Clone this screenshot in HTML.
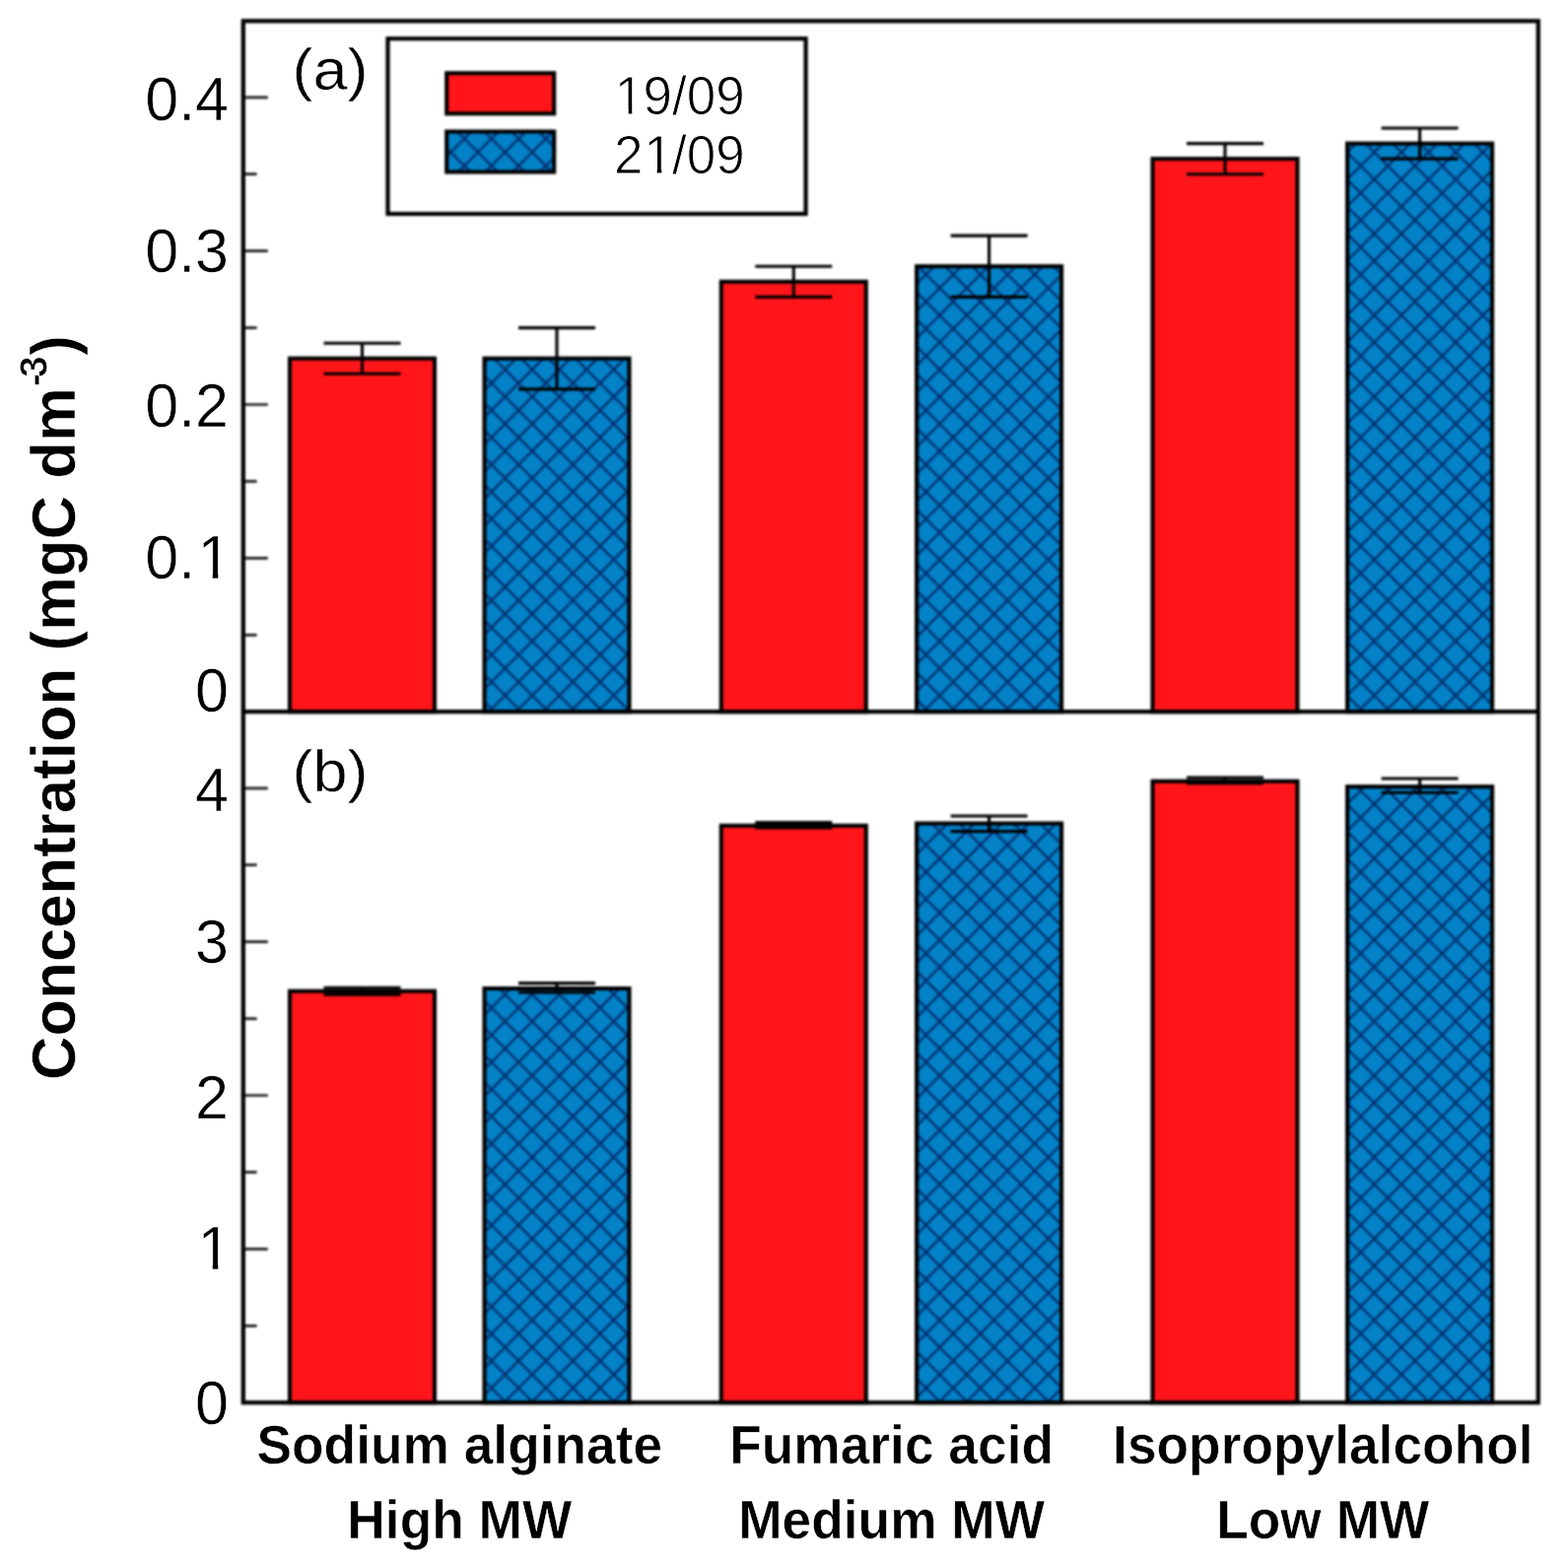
<!DOCTYPE html>
<html lang="en"><head><meta charset="utf-8"><title>Concentration bar chart</title>
<style>
html,body{margin:0;padding:0;background:#fff;}
body{width:1591px;height:1588px;overflow:hidden;}
svg{display:block;}
text{font-family:"Liberation Sans",Arial,Helvetica,sans-serif;fill:#000;stroke:#fff;stroke-width:0.5px;paint-order:fill stroke;stroke-linejoin:round;}
.tk{font-size:61px;text-anchor:end;}
.lg{font-size:53px;text-anchor:start;stroke-width:0.9px;}
.pl{font-size:63px;text-anchor:start;}
.xl{font-size:53.3px;font-weight:bold;text-anchor:middle;stroke-width:0.5px;}
.yl{font-size:61.7px;font-weight:bold;text-anchor:start;stroke-width:0.5px;}
.sup{font-size:39px;letter-spacing:-4.0px;stroke-width:0.8px;}
</style></head><body>
<svg width="1591" height="1588" viewBox="0 0 1591 1588" role="img" aria-label="Bar chart of concentration (mgC dm-3) for Sodium alginate, Fumaric acid and Isopropylalcohol on 19/09 and 21/09">
<defs>
<pattern id="hatch" patternUnits="userSpaceOnUse" x="498.7" y="416.3" width="27.56" height="27.56">
<rect x="0" y="0" width="27.56" height="27.56" fill="#0482c8"/>
<path d="M0 0L27.56 27.56M27.56 0L0 27.56" stroke="#04306f" stroke-width="2.4" fill="none" stroke-linecap="square"/>
</pattern>
<filter id="soft" x="-2%" y="-2%" width="104%" height="104%" color-interpolation-filters="sRGB"><feGaussianBlur stdDeviation="0.9"/></filter>
<filter id="softt" x="-2%" y="-2%" width="104%" height="104%" color-interpolation-filters="sRGB"><feGaussianBlur stdDeviation="0.6"/></filter>
</defs>
<rect x="0" y="0" width="1591" height="1588" fill="#fff"/>
<g id="shapes" filter="url(#soft)">
<g id="panel-a-bars">
<rect x="294.0" y="363.7" width="147.0" height="358.5" fill="#ff151a" stroke="#000" stroke-width="4.1"/>
<rect x="491.5" y="363.7" width="147.0" height="358.5" fill="url(#hatch)" stroke="#000" stroke-width="4.1"/>
<rect x="731.8" y="285.8" width="147.0" height="436.4" fill="#ff151a" stroke="#000" stroke-width="4.1"/>
<rect x="930.1" y="270.2" width="147.0" height="452.0" fill="url(#hatch)" stroke="#000" stroke-width="4.1"/>
<rect x="1169.5" y="161.1" width="147.0" height="561.1" fill="#ff151a" stroke="#000" stroke-width="4.1"/>
<rect x="1367.1" y="145.6" width="147.0" height="576.6" fill="url(#hatch)" stroke="#000" stroke-width="4.1"/>
<path d="M328.5 348.2H406.5M328.5 379.3H406.5M367.5 348.2V379.3" stroke="#000" stroke-width="3.1" fill="none"/>
<path d="M526.0 332.6H604.0M526.0 394.9H604.0M565.0 332.6V394.9" stroke="#000" stroke-width="3.1" fill="none"/>
<path d="M766.3 270.2H844.3M766.3 301.4H844.3M805.3 270.2V301.4" stroke="#000" stroke-width="3.1" fill="none"/>
<path d="M964.6 239.1H1042.6M964.6 301.4H1042.6M1003.6 239.1V301.4" stroke="#000" stroke-width="3.1" fill="none"/>
<path d="M1204.0 145.6H1282.0M1204.0 176.7H1282.0M1243.0 145.6V176.7" stroke="#000" stroke-width="3.1" fill="none"/>
<path d="M1401.6 130.0H1479.6M1401.6 161.1H1479.6M1440.6 130.0V161.1" stroke="#000" stroke-width="3.1" fill="none"/>
</g>
<g id="panel-b-bars">
<rect x="294.0" y="1005.7" width="147.0" height="417.5" fill="#ff151a" stroke="#000" stroke-width="4.1"/>
<rect x="491.5" y="1003.0" width="147.0" height="420.2" fill="url(#hatch)" stroke="#000" stroke-width="4.1"/>
<rect x="731.8" y="837.8" width="147.0" height="585.4" fill="#ff151a" stroke="#000" stroke-width="4.1"/>
<rect x="930.1" y="835.5" width="147.0" height="587.7" fill="url(#hatch)" stroke="#000" stroke-width="4.1"/>
<rect x="1169.5" y="792.7" width="147.0" height="630.5" fill="#ff151a" stroke="#000" stroke-width="4.1"/>
<rect x="1367.1" y="798.2" width="147.0" height="625.0" fill="url(#hatch)" stroke="#000" stroke-width="4.1"/>
<path d="M328.5 1002.3H406.5M328.5 1009.1H406.5M367.5 1002.3V1009.1" stroke="#000" stroke-width="3.1" fill="none"/>
<path d="M526.0 997.6H604.0M526.0 1007.0H604.0M565.0 997.6V1007.0" stroke="#000" stroke-width="3.1" fill="none"/>
<path d="M766.3 834.6H844.3M766.3 840.0H844.3M805.3 834.6V840.0" stroke="#000" stroke-width="3.1" fill="none"/>
<path d="M964.6 828.0H1042.6M964.6 843.6H1042.6M1003.6 828.0V843.6" stroke="#000" stroke-width="3.1" fill="none"/>
<path d="M1204.0 789.0H1282.0M1204.0 794.8H1282.0M1243.0 789.0V794.8" stroke="#000" stroke-width="3.1" fill="none"/>
<path d="M1401.6 790.0H1479.6M1401.6 804.3H1479.6M1440.6 790.0V804.3" stroke="#000" stroke-width="3.1" fill="none"/>
</g>
<path id="ticks" d="M246.8 566.4h25.0M246.8 1267.4h25.0M246.8 410.5h25.0M246.8 1111.5h25.0M246.8 254.7h25.0M246.8 955.7h25.0M246.8 98.8h25.0M246.8 799.8h25.0M246.8 644.3h13.8M246.8 1345.3h13.8M246.8 488.4h13.8M246.8 1189.4h13.8M246.8 332.6h13.8M246.8 1033.6h13.8M246.8 176.7h13.8M246.8 877.7h13.8" stroke="#1a1a1a" stroke-width="2.7" fill="none"/>
<rect id="frame" x="246.8" y="21.3" width="1314.0" height="1401.9" fill="none" stroke="#000" stroke-width="4.3"/>
<path id="divider" d="M246.8 722.2H1560.8" stroke="#000" stroke-width="4.3" fill="none"/>
<g id="legend">
<rect x="393.5" y="39.2" width="424.1" height="177.8" fill="#fff" stroke="#000" stroke-width="4.2"/>
<rect x="453.2" y="74.2" width="109" height="41.1" fill="#ff151a" stroke="#000" stroke-width="4.1"/>
<rect x="453.2" y="133.5" width="109" height="41" fill="url(#hatch)" stroke="#000" stroke-width="4.1"/>
</g>
</g>
<g id="labels" filter="url(#softt)">
<text id="lg1" class="lg" dx="0.8 -0.8" transform="translate(623.0 116.2) scale(1 1.035)">19/09</text>
<text id="lg2" class="lg" dx="0 0.8 -0.8" transform="translate(623.0 175.6) scale(1 1.035)">21/09</text>
<text id="pa" class="pl" transform="translate(296.4 90.8) scale(1 0.95)">(a)</text>
<text id="pb" class="pl" transform="translate(296.4 802.8) scale(1 0.95)">(b)</text>
<g id="yticks">
<text id="tk0" class="tk" transform="translate(232.0 121.5) scale(1 1.035)">0.4</text>
<text id="tk1" class="tk" transform="translate(232.0 275.5) scale(1 1.035)">0.3</text>
<text id="tk2" class="tk" transform="translate(232.0 433.0) scale(1 1.035)">0.2</text>
<text id="tk3" class="tk" dx="0 0 2.5" transform="translate(234.5 587.0) scale(1 1.035)">0.1</text>
<text id="tk4" class="tk" transform="translate(232.0 721.7) scale(1 1.035)">0</text>
<text id="tk5" class="tk" transform="translate(232.0 822.8) scale(1 1.035)">4</text>
<text id="tk6" class="tk" transform="translate(232.0 976.8) scale(1 1.035)">3</text>
<text id="tk7" class="tk" transform="translate(232.0 1134.8) scale(1 1.035)">2</text>
<text id="tk8" class="tk" transform="translate(234.5 1288.3) scale(1 1.035)">1</text>
<text id="tk9" class="tk" transform="translate(232.0 1444.6) scale(1 1.035)">0</text>
</g>
<g id="xlabels">
<text id="xa0" class="xl" transform="translate(466.3 1485.0) scale(1 1.025)">Sodium alginate</text>
<text id="xb0" class="xl" transform="translate(466.3 1560.6) scale(1 1.025)">High MW</text>
<text id="xa1" class="xl" transform="translate(904.6 1485.0) scale(1 1.025)">Fumaric acid</text>
<text id="xb1" class="xl" transform="translate(904.6 1560.6) scale(1 1.025)">Medium MW</text>
<text id="xa2" class="xl" transform="translate(1342.3 1485.0) scale(1 1.025)">Isopropylalcohol</text>
<text id="xb2" class="xl" transform="translate(1342.3 1560.6) scale(1 1.025)">Low MW</text>
</g>
<path id="onefeet" fill="#fff" d="M204.5 581.9H215.7V588.4H204.5ZM221.3 581.9H232.5V588.4H221.3ZM204.5 1282.9H215.7V1289.4H204.5ZM221.3 1282.9H232.5V1289.4H221.3ZM626.5 110.9H637.7V116.6H626.5ZM641.3 110.9H651.5V116.6H641.3ZM656.5 170.9H666.7V176.6H656.5ZM671.3 170.9H681.5V176.6H671.3Z"/>
<text id="ylabel" class="yl" dx="0 0 0 0 0 0 0 0 0 0 0 0 0 0 0 0 0 0 0 0 0 1.3 0 4.5" dy="0 0 0 0 0 0 0 0 0 0 0 0 0 0 0 0 0 0 0 0 0 -27.0 0 27.0" transform="translate(75.6 1096.0) rotate(-90) scale(1 1.025)">Concentration (mgC dm<tspan id="ysup" class="sup">-3</tspan>)</text>
</g>
</svg>
</body></html>
